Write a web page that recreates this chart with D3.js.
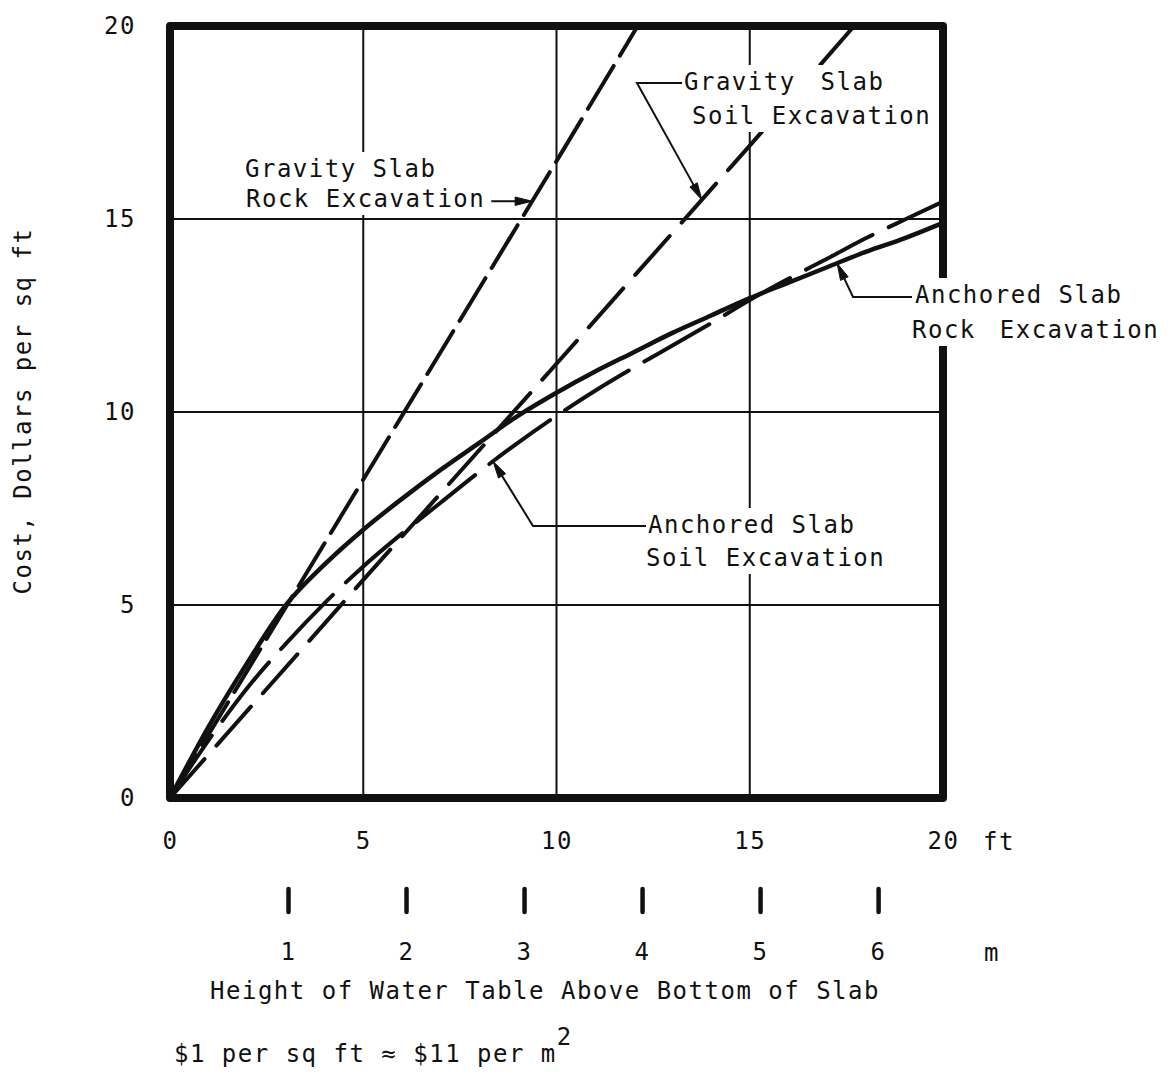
<!DOCTYPE html>
<html>
<head>
<meta charset="utf-8">
<script src="https://cdn.jsdelivr.net/npm/d3@7"></script>
<style>
  html, body { margin: 0; padding: 0; background: #fff; }
  svg { display: block; }
  text {
    font-family: "DejaVu Sans Mono", "Liberation Mono", monospace;
    font-size: 24px;
    fill: #111;
    letter-spacing: 1.5px;
  }
</style>
</head>
<body>
<svg id="chart" width="1175" height="1074"></svg>
<script>
// Cost of slab-on-grade uplift protection vs. height of water table (ft, $/sq ft)
const anchoredFeet      = [0, 1, 2, 3, 4, 5, 6, 7, 8, 9, 10, 11, 12, 13, 14, 15, 16, 17, 18, 19, 20];
const anchoredRockCost  = [0, 1.85, 3.5, 5.0, 6.05, 6.95, 7.75, 8.5, 9.2, 9.9, 10.5, 11.05, 11.55, 12.05, 12.5, 12.95, 13.35, 13.75, 14.15, 14.5, 14.9];
const anchoredSoilCost  = [0, 1.5, 2.85, 4.0, 5.05, 6.0, 6.85, 7.65, 8.45, 9.2, 9.9, 10.55, 11.15, 11.72, 12.3, 12.9, 13.45, 13.97, 14.5, 14.98, 15.45];
const gravityRockFeet   = [0, 2, 4, 6, 8, 10, 12.1];
const gravityRockCost   = [0, 3.3, 6.6, 9.9, 13.2, 16.5, 20];
const gravitySoilFeet   = [0, 5, 10, 15, 17.7];
const gravitySoilCost   = [0, 5.65, 11.25, 16.9, 20];

const xTicks = [0, 5, 10, 15, 20];
const yTicks = [0, 5, 10, 15, 20];
const meterTicks = [1, 2, 3, 4, 5, 6];
const meterRulerSpan = 6.55;   // metres covered by the printed metric ruler

const svg = d3.select("#chart");
const INK = "#111";

const x = d3.scaleLinear().domain([0, 20]).range([170, 943]);
const y = d3.scaleLinear().domain([0, 20]).range([798, 26]);
const m = d3.scaleLinear().domain([0, meterRulerSpan]).range([170, 943]);

// ---- grid ----
const grid = svg.append("g").attr("stroke", INK).attr("stroke-width", 2);
grid.selectAll("line.v").data(xTicks.slice(1, -1)).join("line")
  .attr("x1", d => x(d)).attr("x2", d => x(d))
  .attr("y1", y(0)).attr("y2", y(20));
grid.selectAll("line.h").data(yTicks.slice(1, -1)).join("line")
  .attr("x1", x(0)).attr("x2", x(20))
  .attr("y1", d => y(d)).attr("y2", d => y(d));

// ---- frame ----
svg.append("rect")
  .attr("x", x(0)).attr("y", y(20))
  .attr("width", x(20) - x(0)).attr("height", y(0) - y(20))
  .attr("fill", "none").attr("stroke", INK).attr("stroke-width", 8)
  .attr("stroke-linejoin", "round");

// ---- curves ----
const series = [
  { feet: gravityRockFeet, cost: gravityRockCost, width: 4,   dash: "50 12", curve: d3.curveLinear },
  { feet: gravitySoilFeet, cost: gravitySoilCost, width: 4,   dash: "52 18", curve: d3.curveLinear },
  { feet: anchoredFeet,    cost: anchoredRockCost, width: 4.5, dash: null,   curve: d3.curveMonotoneX },
  { feet: anchoredFeet,    cost: anchoredSoilCost, width: 4,   dash: "75 18", curve: d3.curveMonotoneX }
];

series.forEach(s => {
  const pts = s.feet.map((f, i) => [f, s.cost[i]]);
  svg.append("path")
    .datum(pts)
    .attr("fill", "none")
    .attr("stroke", INK)
    .attr("stroke-width", s.width)
    .attr("stroke-dasharray", s.dash)
    .attr("stroke-linecap", "round")
    .attr("d", d3.line().x(d => x(d[0])).y(d => y(d[1])).curve(s.curve));
});

function costAt(s, ft) {
  const i = Math.max(1, d3.bisectLeft(s.feet, ft));
  const f0 = s.feet[i - 1], f1 = s.feet[i];
  const t = (ft - f0) / (f1 - f0);
  return s.cost[i - 1] + t * (s.cost[i] - s.cost[i - 1]);
}

// ---- annotations ----
const annotations = [
  { lines: ["Gravity Slab", "Rock Excavation"], xs: [245, 246], ys: [177, 207], ws: [0, 0],
    series: 0, ft: 9.37, path: "straight" },
  { lines: ["Gravity Slab", "Soil Excavation"], xs: [684, 692], ys: [90, 124], ws: [9, 0],
    series: 1, ft: 13.76, path: [[682, 83], [637, 83]] },
  { lines: ["Anchored Slab", "Rock Excavation"], xs: [915, 912], ys: [303, 338], ws: [0, 8],
    series: 2, ft: 17.26, path: [[912, 297], [853, 297]] },
  { lines: ["Anchored Slab", "Soil Excavation"], xs: [648, 646], ys: [533, 566], ws: [0, 0],
    series: 3, ft: 8.36, path: [[646, 526], [533, 526]] }
];

annotations.forEach(a => {
  const g = svg.append("g");
  const bg = g.append("rect").attr("fill", "#fff");
  const t = g.append("text");
  a.lines.forEach((ln, i) => {
    t.append("tspan").attr("x", a.xs[i]).attr("y", a.ys[i])
      .style("word-spacing", a.ws[i] + "px").text(ln);
  });
  const bb = t.node().getBBox();
  bg.attr("x", bb.x - 4).attr("y", bb.y - 3)
    .attr("width", bb.width + 8).attr("height", bb.height + 5);

  const s = series[a.series];
  const tip = [x(a.ft), y(costAt(s, a.ft))];
  let pts;
  if (a.path === "straight") {
    pts = [[bb.x + bb.width + 6, tip[1]], tip];
  } else {
    pts = a.path.concat([tip]);
  }
  const prev = pts[pts.length - 2];
  const ang = Math.atan2(tip[1] - prev[1], tip[0] - prev[0]);
  const L = 17, W = 4.2;
  const base = [tip[0] - L * Math.cos(ang), tip[1] - L * Math.sin(ang)];
  const shaft = pts.slice(0, -1).concat([[tip[0] - (L - 2) * Math.cos(ang), tip[1] - (L - 2) * Math.sin(ang)]]);
  g.append("path")
    .attr("d", d3.line()(shaft))
    .attr("fill", "none").attr("stroke", INK).attr("stroke-width", 2);
  const nx = -Math.sin(ang), ny = Math.cos(ang);
  g.append("path")
    .attr("d", d3.line()([tip, [base[0] + W * nx, base[1] + W * ny], [base[0] - W * nx, base[1] - W * ny]]) + "Z")
    .attr("fill", INK).attr("stroke", INK).attr("stroke-width", 1);
});

// ---- axes ----
const xAxis = svg.append("g").attr("transform", `translate(0,${y(0)})`)
  .call(d3.axisBottom(x).tickValues(xTicks).tickSize(0).tickPadding(34).tickFormat(d3.format("d")));
xAxis.select(".domain").remove();

const yAxis = svg.append("g").attr("transform", `translate(${x(0)},0)`)
  .call(d3.axisLeft(y).tickValues(yTicks).tickSize(0).tickPadding(34).tickFormat(d3.format("d")));
yAxis.select(".domain").remove();

const mAxis = svg.append("g").attr("transform", "translate(0,889)")
  .call(d3.axisBottom(m).tickValues(meterTicks).tickSize(23).tickPadding(31).tickFormat(d3.format("d")));
mAxis.select(".domain").remove();
mAxis.selectAll(".tick line").attr("stroke", INK).attr("stroke-width", 4.5).attr("stroke-linecap", "round");

[xAxis, yAxis, mAxis].forEach(a => a.selectAll("text")
  .attr("fill", INK)
  .style("font-family", '"DejaVu Sans Mono", monospace')
  .style("font-size", "24px"));

svg.append("text").attr("x", x(20) + 56).attr("y", 850).attr("text-anchor", "middle").text("ft");
svg.append("text").attr("x", x(20) + 49).attr("y", 961).attr("text-anchor", "middle").text("m");

svg.append("text").attr("x", 545).attr("y", 999).attr("text-anchor", "middle")
  .text("Height of Water Table Above Bottom of Slab");

svg.append("text").attr("transform", "translate(31,411) rotate(-90)").attr("text-anchor", "middle")
  .text("Cost, Dollars per sq ft");

const note = svg.append("text").attr("x", 174).attr("y", 1062);
note.append("tspan").text("$1 per sq ft ≈ $11 per m");
note.append("tspan").attr("dy", -17).text("2");
</script>
</body>
</html>
